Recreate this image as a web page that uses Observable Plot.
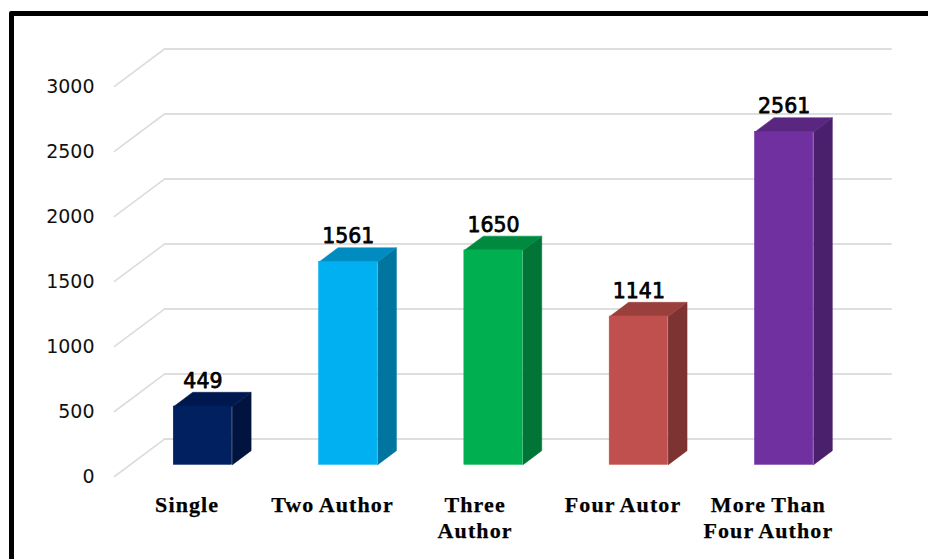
<!DOCTYPE html>
<html>
<head>
<meta charset="utf-8">
<script src="https://cdn.jsdelivr.net/npm/d3@7"></script>
<script src="https://cdn.jsdelivr.net/npm/@observablehq/plot@0.6"></script>
<style>
  html, body { margin: 0; padding: 0; background: #fff; overflow: hidden; }
  #chart { position: relative; width: 928px; height: 559px; }
  #chart svg { display: block; position: absolute; left: 0; top: 0; }
  #edge { position: absolute; left: 9px; top: 11px; right: -8px; bottom: -8px;
          border: 5px solid #000; border-radius: 2px; }
  .category-label text { letter-spacing: 1.1px; word-spacing: -1px; }
</style>
</head>
<body>
<div id="chart"><div id="edge"></div></div>
<script>
// Authors-per-paper counts, drawn as pseudo-3D columns on a receding floor.
const categories = ["Single", "Two Author", "Three\nAuthor", "Four Autor", "More Than\nFour Author"];
const labelNudge = [0, 0, -0.018, 0, 0];
const counts = [449, 1561, 1650, 1141, 2561];
const frontColors = ["#002060", "#00B0F0", "#00B050", "#C0504D", "#7030A0"];
const sideColors = ["#00143f", "#0075a0", "#007535", "#7d3331", "#4a1f6b"];
const topColors = ["#001850", "#008cc0", "#008a40", "#99403d", "#592680"];
const yTicks = [0, 500, 1000, 1500, 2000, 2500, 3000];

// Receding depth, as a share of a full trip from the front edge to the back wall.
const depthX = 0.344;   // category units
const depthY = 288;     // value units
const barFront = 0.31;
const barBack = 0.69;
const barInset = 0.301;
const barWidth = 0.402;

const at = (slot, value, depth) => ({x: slot + depth * depthX, y: value + depth * depthY});

const gridMarks = yTicks.flatMap((v) => [
  Plot.line([at(0, v, 0), at(0, v, 1)], {x: "x", y: "y", stroke: "#dcdcdc", strokeWidth: 1.6}),
  Plot.line([at(0, v, 1), at(categories.length, v, 1)], {x: "x", y: "y", stroke: "#dedede", strokeWidth: 2})
]);

const barMarks = counts.flatMap((v, i) => {
  const l = i + barInset, r = l + barWidth;
  const side = [at(r, 0, barFront), at(r, 0, barBack), at(r, v, barBack), at(r, v, barFront)];
  const lid = [at(l, v, barFront), at(l, v, barBack), at(r, v, barBack), at(r, v, barFront)];
  const f0 = at(l, 0, barFront), f1 = at(r, v, barFront);
  return [
    Plot.line(side, {x: "x", y: "y", fill: sideColors[i], stroke: sideColors[i], strokeWidth: 0.5}),
    Plot.line(lid, {x: "x", y: "y", fill: topColors[i], stroke: topColors[i], strokeWidth: 0.5}),
    Plot.rect([0], {
      x1: () => f0.x, x2: () => f1.x, y1: () => f0.y, y2: () => f1.y,
      fill: frontColors[i], stroke: frontColors[i], strokeWidth: 0.5
    })
  ];
});

const valueLabels = counts.map((v, i) => ({
  ...at(i + barInset + barWidth / 2, v, barFront),
  top: at(0, v, barBack).y,
  text: String(v)
}));

const chart = Plot.plot({
  width: 928,
  height: 559,
  marginLeft: 114,
  marginRight: 37.5,
  marginTop: 48.5,
  marginBottom: 83,
  style: {background: "transparent", overflow: "visible"},
  x: {type: "linear", domain: [0, categories.length + depthX], axis: null},
  y: {type: "linear", domain: [0, 3000 + depthY], axis: null},
  marks: [
    ...gridMarks,
    ...barMarks,
    Plot.axisY({
      ticks: yTicks,
      tickSize: 0,
      tickPadding: 20,
      label: null,
      tickFormat: (d) => String(d),
      fontSize: 19,
      fontFamily: "DejaVu Sans",
      fill: "#111",
      dy: 0.5
    }),
    Plot.text(valueLabels, {
      x: "x",
      y: "top",
      text: "text",
      dy: -11,
      fontSize: 20.5,
      fontFamily: "DejaVu Sans",
      fill: "#000",
      stroke: "#000",
      strokeWidth: 0.75
    }),
    Plot.text(categories, {
      x: (d, i) => i + 0.5 + labelNudge[i],
      y: () => 0,
      text: (d) => d,
      className: "category-label",
      lineAnchor: "top",
      dy: 17,
      lineHeight: 1.19,
      fontSize: 22,
      fontWeight: "bold",
      fontFamily: "Liberation Serif",
      fill: "#000",
      stroke: "#000",
      strokeWidth: 0.25
    })
  ]
});
document.getElementById("chart").appendChild(chart);
</script>
</body>
</html>
